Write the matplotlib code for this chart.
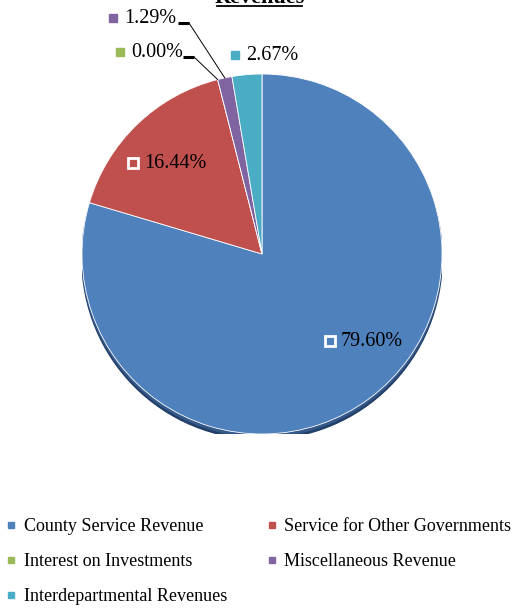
import numpy as np
import matplotlib.pyplot as plt
from matplotlib.lines import Line2D
from matplotlib.patches import Circle

# Revenue breakdown (percent of total)
categories = ['County Service Revenue', 'Service for Other Governments',
              'Interest on Investments', 'Miscellaneous Revenue',
              'Interdepartmental Revenues']
shares = [79.60, 16.44, 0.00, 1.29, 2.67]
colors = ['#4F81BD', '#C0504D', '#9BBB59', '#8064A2', '#4BACC6']

plt.rcParams['font.family'] = ['Liberation Serif', 'DejaVu Serif']

W, H = 521, 608
fig = plt.figure(figsize=(W / 100, H / 100), dpi=100)

# pie placed by pixel centre / radius
cx, cy, r = 262, 254, 180
ax = fig.add_axes([(cx - r) / W, (H - cy - r) / H, 2 * r / W, 2 * r / H])


def px(x, y):
    return (x - cx) / r, (cy - y) / r


# dark rim under the pie (3D look)
ax.add_patch(Circle((0, -0.03), 1.0, color='#213f68', zorder=0))
ax.add_patch(Circle((0, -0.015), 1.0, color='#35598a', zorder=0))

wedges, _ = ax.pie(shares, colors=colors, startangle=90, counterclock=False,
                   radius=1.0,
                   wedgeprops=dict(edgecolor='white', linewidth=0.6, zorder=1))
ax.set_xlim(-1, 1)
ax.set_ylim(-1, 1)
ax.set_aspect('equal')
ax.axis('off')

# data labels: key marker position in pixels
label_pos = {0: (330, 341), 1: (133, 163), 2: (120, 52), 3: (113, 18), 4: (235, 55)}
inside = {0, 1}
for i, (lx, ly) in label_pos.items():
    mx, my = px(lx, ly)
    if i in inside:
        ax.plot(mx, my, marker='s', ms=7, mfc=colors[i], mec='white', mew=2,
                clip_on=False, zorder=5)
    else:
        ax.plot(mx, my, marker='s', ms=6, mfc=colors[i], mec=colors[i],
                clip_on=False, zorder=5)
    tx, ty = px(lx + 11, ly)
    ax.text(tx, ty, f'{shares[i]:.2f}%', fontsize=14.5, ha='left', va='center',
            color='black', zorder=6)

# leader lines for the thin slices
cum = np.cumsum([0] + shares[:-1])
leaders = {3: (178, 23), 2: (183, 57)}
for i, (sx, sy) in leaders.items():
    theta = np.deg2rad(90 - 3.6 * (cum[i] + shares[i] / 2))
    ex, ey = np.cos(theta), np.sin(theta)
    p0 = px(sx, sy)
    p1 = px(sx + 11, sy)
    ax.plot([p0[0], p1[0]], [p0[1], p1[1]], color='black', lw=2.2,
            clip_on=False, solid_capstyle='butt', zorder=4)
    ax.plot([p1[0], ex], [p1[1], ey], color='black', lw=0.7,
            clip_on=False, zorder=4)

# title, partly cut off at the top edge, underlined
fig.text(260 / W, 1 - 3 / H, 'Revenues', ha='center', va='baseline',
         fontsize=16, fontweight='bold')
fig.add_artist(Line2D([217 / W, 302 / W], [1 - 6 / H] * 2, color='black', lw=1.3))

handles = [Line2D([], [], ls='none', marker='s', ms=5, mfc=c, mec=c, label=lab)
           for c, lab in zip(colors, categories)]
order = [0, 2, 4, 1, 3]
fig.legend([handles[k] for k in order], [categories[k] for k in order],
           ncol=2, loc='upper left', bbox_to_anchor=(6 / W, 1 - 518 / H),
           frameon=False, fontsize=13, handlelength=0.6, handletextpad=0.4,
           columnspacing=2.15, labelspacing=1.0, borderpad=0, borderaxespad=0)

fig.savefig('out.png', dpi=100)
